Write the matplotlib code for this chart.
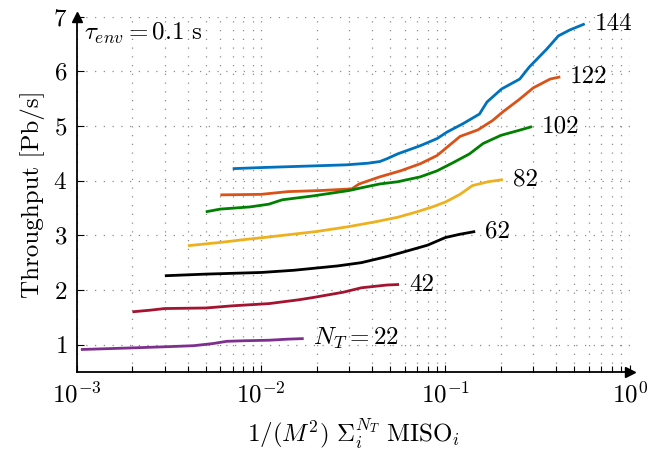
import numpy as np
import matplotlib
matplotlib.use('Agg')
import matplotlib.pyplot as plt
from matplotlib.ticker import LogLocator, NullFormatter

plt.rcParams['font.family'] = 'serif'
plt.rcParams['font.serif'] = ['cmr10']
plt.rcParams['mathtext.fontset'] = 'cm'
plt.rcParams['axes.formatter.use_mathtext'] = True

# number of transmitters for each curve
n_t = [144, 122, 102, 82, 62, 42, 22]
colors = ['#0072BD', '#D95319', '#008000', '#EDB120', 'k', '#A2142F', '#7E2F8E']

x_144 = [7e-3, 1e-2, 1.9e-2, 2.9e-2, 3.8e-2, 4.4e-2, 4.8e-2, 5.5e-2, 7.3e-2, 9e-2, 1.02e-1,
         1.24e-1, 1.53e-1, 1.68e-1, 2.02e-1, 2.53e-1, 2.85e-1, 3.55e-1, 4.1e-1, 4.74e-1, 5.7e-1]
y_144 = [4.22, 4.24, 4.27, 4.29, 4.32, 4.35, 4.40, 4.49, 4.64, 4.77, 4.89,
         5.04, 5.22, 5.44, 5.68, 5.86, 6.08, 6.41, 6.65, 6.76, 6.87]

x_122 = [6e-3, 1e-2, 1.4e-2, 2.1e-2, 3.1e-2, 3.4e-2, 4.4e-2, 5.7e-2, 7.3e-2, 9e-2,
         1.2e-1, 1.5e-1, 1.8e-1, 2.05e-1, 2.5e-1, 3e-1, 3.7e-1, 4.2e-1]
y_122 = [3.74, 3.75, 3.80, 3.82, 3.85, 3.94, 4.07, 4.18, 4.31, 4.46,
         4.81, 4.93, 5.10, 5.26, 5.48, 5.70, 5.86, 5.90]

x_102 = [5e-3, 6e-3, 8.7e-3, 1.1e-2, 1.3e-2, 1.9e-2, 3e-2, 3.5e-2, 4.4e-2, 5.5e-2,
         7.3e-2, 9e-2, 1.1e-1, 1.35e-1, 1.6e-1, 2e-1, 2.5e-1, 2.95e-1]
y_102 = [3.43, 3.48, 3.52, 3.57, 3.65, 3.72, 3.82, 3.87, 3.94, 3.98,
         4.07, 4.18, 4.33, 4.49, 4.68, 4.83, 4.92, 4.99]

x_82 = [4e-3, 6e-3, 8e-3, 1.1e-2, 2e-2, 3e-2, 4.2e-2, 5.5e-2, 7e-2, 8.5e-2,
        1e-1, 1.2e-1, 1.4e-1, 1.7e-1, 2.05e-1]
y_82 = [2.81, 2.87, 2.92, 2.97, 3.07, 3.16, 3.25, 3.33, 3.43, 3.52,
        3.61, 3.75, 3.91, 3.98, 4.02]

x_62 = [3e-3, 5e-3, 1e-2, 1.5e-2, 2.6e-2, 3.5e-2, 4.8e-2, 6e-2, 8e-2, 1e-1, 1.2e-1, 1.45e-1]
y_62 = [2.26, 2.29, 2.32, 2.36, 2.44, 2.50, 2.61, 2.70, 2.82, 2.96, 3.02, 3.07]

x_42 = [2e-3, 2.5e-3, 3e-3, 5e-3, 7e-3, 1.1e-2, 1.6e-2, 1.9e-2, 2.8e-2, 3.5e-2, 4.8e-2, 5.6e-2]
y_42 = [1.60, 1.63, 1.66, 1.67, 1.71, 1.75, 1.82, 1.86, 1.96, 2.04, 2.09, 2.10]

x_22 = [1.05e-3, 2e-3, 3e-3, 4.3e-3, 5.5e-3, 6.5e-3, 8e-3, 1.1e-2, 1.4e-2, 1.7e-2]
y_22 = [0.91, 0.94, 0.96, 0.98, 1.02, 1.06, 1.07, 1.08, 1.10, 1.11]

xs = [x_144, x_122, x_102, x_82, x_62, x_42, x_22]
ys = [y_144, y_122, y_102, y_82, y_62, y_42, y_22]

fs = 18

fig = plt.figure(figsize=(6.58, 4.53), dpi=100)
ax = fig.add_axes([0.117, 0.179, 0.840, 0.784])

for x, y, c, n in zip(xs, ys, colors, n_t):
    ax.plot(x, y, color=c, lw=2.0, solid_capstyle='butt')
    label = r'$N_T = %d$' % n if n == 22 else str(n)
    ax.annotate(label, (x[-1], y[-1]), xytext=(7, 0), textcoords='offset points',
                va='center', ha='left', fontsize=fs)

ax.set_xscale('log')
ax.set_xlim(1e-3, 1)
ax.set_ylim(0.5, 7)
ax.set_yticks([1, 2, 3, 4, 5, 6, 7])
ax.xaxis.set_major_locator(LogLocator(base=10, numticks=10))
ax.xaxis.set_minor_locator(LogLocator(base=10, subs=np.arange(2, 10), numticks=10))
ax.xaxis.set_minor_formatter(NullFormatter())

ax.grid(True, which='major', axis='both', color='#8c8c8c', ls=(0, (1, 6)), lw=0.9)
ax.grid(True, which='minor', axis='x', color='#8c8c8c', ls=(0, (1, 6)), lw=0.9)

for s in ['top', 'right']:
    ax.spines[s].set_visible(False)
for s in ['left', 'bottom']:
    ax.spines[s].set_linewidth(1.3)
ax.plot(1, 0, '>k', ms=7, transform=ax.transAxes, clip_on=False)
ax.plot(0, 1, '^k', ms=7, transform=ax.transAxes, clip_on=False)

ax.tick_params(which='both', direction='in', labelsize=fs, pad=7)
ax.tick_params(which='major', length=5, width=0.8)
ax.tick_params(which='minor', length=4, width=0.8)

ax.set_xlabel(r'$1/(M^2)\ \Sigma_i^{N_T}\ \mathrm{MISO}_i$', fontsize=fs, labelpad=6)
ax.set_ylabel('Throughput [Pb/s]', fontsize=fs, labelpad=6)
ax.text(0.012, 0.99, r'$\tau_{env} = 0.1\ \mathrm{s}$', transform=ax.transAxes,
        va='top', ha='left', fontsize=fs)

fig.savefig('out.png', dpi=100)
